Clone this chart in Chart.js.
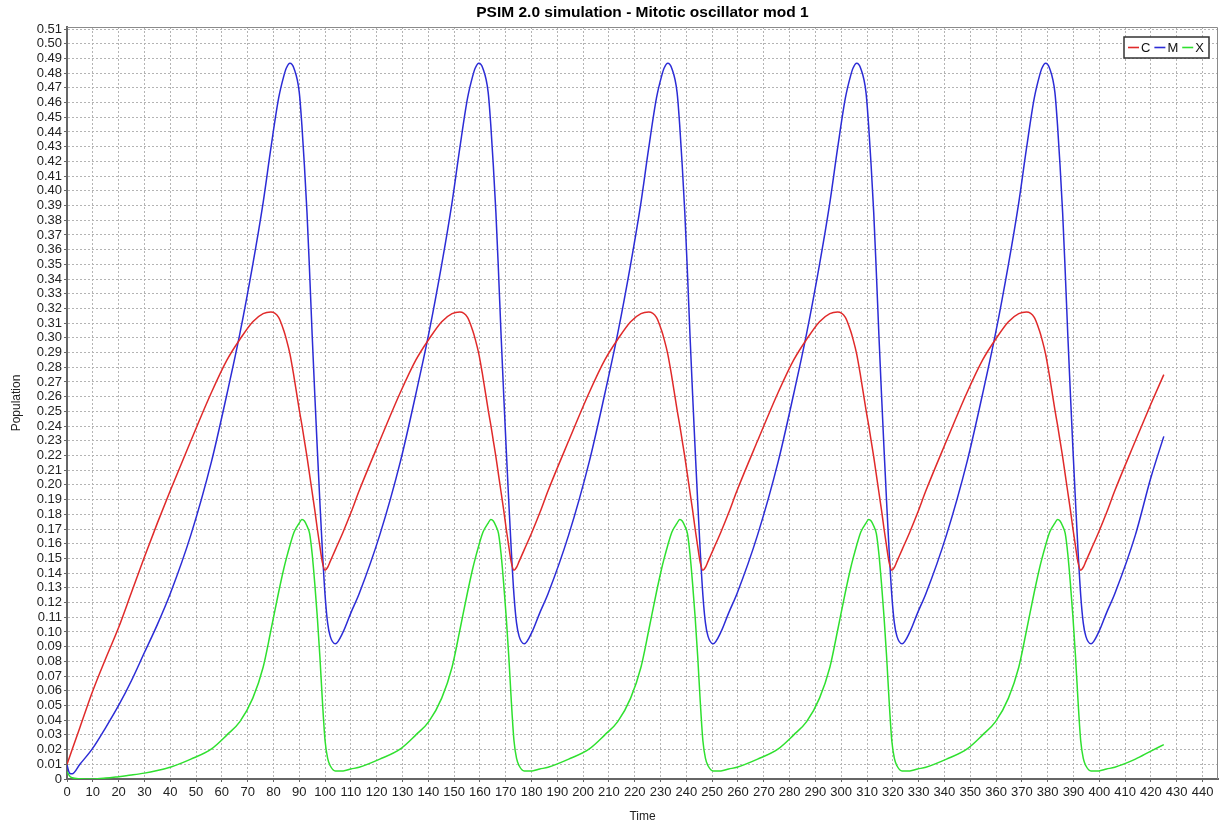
<!DOCTYPE html>
<html>
<head>
<meta charset="utf-8">
<script src="https://cdn.jsdelivr.net/npm/chart.js@4.4.1/dist/chart.umd.min.js"></script>
<style>
  html, body { margin: 0; padding: 0; background: #fff; }
  #wrap { width: 1229px; height: 825px; }
</style>
</head>
<body>
<div id="wrap"><canvas id="chart" width="1229" height="825"></canvas></div>
<script>
// time points (shared by all three series)
const time = [
  0, 1, 2, 5, 10, 15, 20, 25, 30, 35,
  40, 48, 56, 62, 67, 72, 76, 79, 82, 84, 85, 86.4, 88, 90, 91, 92, 93, 94, 95, 96, 97, 98, 99, 100, 101, 102, 104, 107, 110,
  113.2, 121.2, 129.2, 135.2, 140.2, 145.2, 149.2, 152.2, 155.2, 157.2, 158.2, 159.6, 161.2, 163.2, 164.2, 165.2, 166.2, 167.2, 168.2, 169.2, 170.2, 171.2, 172.2, 173.2, 174.2, 175.2, 177.2, 180.2, 183.2,
  186.4, 194.4, 202.4, 208.4, 213.4, 218.4, 222.4, 225.4, 228.4, 230.4, 231.4, 232.8, 234.4, 236.4, 237.4, 238.4, 239.4, 240.4, 241.4, 242.4, 243.4, 244.4, 245.4, 246.4, 247.4, 248.4, 250.4, 253.4, 256.4,
  259.6, 267.6, 275.6, 281.6, 286.6, 291.6, 295.6, 298.6, 301.6, 303.6, 304.6, 306.0, 307.6, 309.6, 310.6, 311.6, 312.6, 313.6, 314.6, 315.6, 316.6, 317.6, 318.6, 319.6, 320.6, 321.6, 323.6, 326.6, 329.6,
  332.8, 340.8, 348.8, 354.8, 359.8, 364.8, 368.8, 371.8, 374.8, 376.8, 377.8, 379.2, 380.8, 382.8, 383.8, 384.8, 385.8, 386.8, 387.8, 388.8, 389.8, 390.8, 391.8, 392.8, 393.8, 394.8, 396.8, 399.8, 402.8,
  406, 414, 420, 425
];

const popC = [
  0.010, 0.015, 0.020, 0.035, 0.060, 0.082, 0.103, 0.127, 0.151, 0.174,
  0.196, 0.230, 0.263, 0.285, 0.299, 0.311, 0.3165, 0.3176, 0.314, 0.305, 0.299, 0.289, 0.273, 0.251, 0.241, 0.230, 0.219, 0.207, 0.195, 0.183, 0.170, 0.158, 0.147, 0.142, 0.144, 0.148, 0.156, 0.168, 0.181,
  0.196, 0.230, 0.263, 0.285, 0.299, 0.311, 0.3165, 0.3176, 0.314, 0.305, 0.299, 0.289, 0.273, 0.251, 0.241, 0.230, 0.219, 0.207, 0.195, 0.183, 0.170, 0.158, 0.147, 0.142, 0.144, 0.148, 0.156, 0.168, 0.181,
  0.196, 0.230, 0.263, 0.285, 0.299, 0.311, 0.3165, 0.3176, 0.314, 0.305, 0.299, 0.289, 0.273, 0.251, 0.241, 0.230, 0.219, 0.207, 0.195, 0.183, 0.170, 0.158, 0.147, 0.142, 0.144, 0.148, 0.156, 0.168, 0.181,
  0.196, 0.230, 0.263, 0.285, 0.299, 0.311, 0.3165, 0.3176, 0.314, 0.305, 0.299, 0.289, 0.273, 0.251, 0.241, 0.230, 0.219, 0.207, 0.195, 0.183, 0.170, 0.158, 0.147, 0.142, 0.144, 0.148, 0.156, 0.168, 0.181,
  0.196, 0.230, 0.263, 0.285, 0.299, 0.311, 0.3165, 0.3176, 0.314, 0.305, 0.299, 0.289, 0.273, 0.251, 0.241, 0.230, 0.219, 0.207, 0.195, 0.183, 0.170, 0.158, 0.147, 0.142, 0.144, 0.148, 0.156, 0.168, 0.181,
  0.196, 0.230, 0.255, 0.275
];

const popM = [
  0.0095, 0.004, 0.0035, 0.010, 0.021, 0.035, 0.050, 0.067, 0.086, 0.105,
  0.126, 0.166, 0.216, 0.262, 0.303, 0.350, 0.392, 0.429, 0.463, 0.478, 0.4835, 0.4867, 0.483, 0.467, 0.445, 0.417, 0.385, 0.345, 0.302, 0.262, 0.224, 0.188, 0.154, 0.125, 0.106, 0.097, 0.092, 0.100, 0.113,
  0.126, 0.166, 0.216, 0.262, 0.303, 0.350, 0.392, 0.429, 0.463, 0.478, 0.4835, 0.4867, 0.483, 0.467, 0.445, 0.417, 0.385, 0.345, 0.302, 0.262, 0.224, 0.188, 0.154, 0.125, 0.106, 0.097, 0.092, 0.100, 0.113,
  0.126, 0.166, 0.216, 0.262, 0.303, 0.350, 0.392, 0.429, 0.463, 0.478, 0.4835, 0.4867, 0.483, 0.467, 0.445, 0.417, 0.385, 0.345, 0.302, 0.262, 0.224, 0.188, 0.154, 0.125, 0.106, 0.097, 0.092, 0.100, 0.113,
  0.126, 0.166, 0.216, 0.262, 0.303, 0.350, 0.392, 0.429, 0.463, 0.478, 0.4835, 0.4867, 0.483, 0.467, 0.445, 0.417, 0.385, 0.345, 0.302, 0.262, 0.224, 0.188, 0.154, 0.125, 0.106, 0.097, 0.092, 0.100, 0.113,
  0.126, 0.166, 0.216, 0.262, 0.303, 0.350, 0.392, 0.429, 0.463, 0.478, 0.4835, 0.4867, 0.483, 0.467, 0.445, 0.417, 0.385, 0.345, 0.302, 0.262, 0.224, 0.188, 0.154, 0.125, 0.106, 0.097, 0.092, 0.100, 0.113,
  0.126, 0.166, 0.205, 0.233
];

const popX = [
  0.005, 0.002, 0.0008, 0.0002, 0.0, 0.0006, 0.0016, 0.0027, 0.004, 0.0058,
  0.008, 0.0135, 0.0205, 0.030, 0.039, 0.055, 0.076, 0.101, 0.127, 0.143, 0.150, 0.159, 0.168, 0.174, 0.1765, 0.1755, 0.172, 0.167, 0.153, 0.133, 0.110, 0.083, 0.052, 0.026, 0.014, 0.009, 0.0055, 0.0055, 0.0068,
  0.008, 0.0135, 0.0205, 0.030, 0.039, 0.055, 0.076, 0.101, 0.127, 0.143, 0.150, 0.159, 0.168, 0.174, 0.1765, 0.1755, 0.172, 0.167, 0.153, 0.133, 0.110, 0.083, 0.052, 0.026, 0.014, 0.009, 0.0055, 0.0055, 0.0068,
  0.008, 0.0135, 0.0205, 0.030, 0.039, 0.055, 0.076, 0.101, 0.127, 0.143, 0.150, 0.159, 0.168, 0.174, 0.1765, 0.1755, 0.172, 0.167, 0.153, 0.133, 0.110, 0.083, 0.052, 0.026, 0.014, 0.009, 0.0055, 0.0055, 0.0068,
  0.008, 0.0135, 0.0205, 0.030, 0.039, 0.055, 0.076, 0.101, 0.127, 0.143, 0.150, 0.159, 0.168, 0.174, 0.1765, 0.1755, 0.172, 0.167, 0.153, 0.133, 0.110, 0.083, 0.052, 0.026, 0.014, 0.009, 0.0055, 0.0055, 0.0068,
  0.008, 0.0135, 0.0205, 0.030, 0.039, 0.055, 0.076, 0.101, 0.127, 0.143, 0.150, 0.159, 0.168, 0.174, 0.1765, 0.1755, 0.172, 0.167, 0.153, 0.133, 0.110, 0.083, 0.052, 0.026, 0.014, 0.009, 0.0055, 0.0055, 0.0068,
  0.008, 0.0135, 0.019, 0.0234
];

const seriesNames = ['C', 'M', 'X'];
const seriesColors = ['#e02a2a', '#2c2cd6', '#2fe02f'];

const FONT = '"Liberation Sans", Arial, Helvetica, sans-serif';

function points(vals) {
  return time.map((t, i) => ({ x: t, y: vals[i] }));
}

// keep only whole-step ticks
function stepTicks(step) {
  return scale => {
    scale.ticks = scale.ticks.filter(t => {
      const r = t.value / step;
      return Math.abs(r - Math.round(r)) < 1e-6;
    });
  };
}

// frame + title + legend, drawn like the original
const decorPlugin = {
  id: 'decor',
  afterDraw(chart) {
    const { ctx, chartArea: a } = chart;
    ctx.save();
    // top/right frame
    ctx.strokeStyle = '#8a8a8a';
    ctx.lineWidth = 1;
    ctx.beginPath();
    ctx.moveTo(a.left, a.top + 0.5);
    ctx.lineTo(a.right - 0.5, a.top + 0.5);
    ctx.lineTo(a.right - 0.5, a.bottom);
    ctx.stroke();

    // title
    ctx.fillStyle = '#000';
    ctx.font = 'bold 15.5px ' + FONT;
    ctx.textAlign = 'center';
    ctx.textBaseline = 'middle';
    ctx.fillText('PSIM 2.0 simulation - Mitotic oscillator mod 1', (a.left + a.right) / 2, 13);

    // legend box
    const bx = 1124, by = 37, bw = 85, bh = 21;
    ctx.fillStyle = '#fff';
    ctx.fillRect(bx, by, bw, bh);
    ctx.strokeStyle = '#333';
    ctx.lineWidth = 1.5;
    ctx.strokeRect(bx, by, bw, bh);
    ctx.font = '13px ' + FONT;
    ctx.textAlign = 'left';
    let x = bx + 4;
    seriesNames.forEach((name, i) => {
      ctx.strokeStyle = seriesColors[i];
      ctx.lineWidth = 1.6;
      ctx.beginPath();
      ctx.moveTo(x, by + bh / 2);
      ctx.lineTo(x + 11, by + bh / 2);
      ctx.stroke();
      ctx.fillStyle = '#111';
      ctx.fillText(name, x + 13, by + bh / 2 + 1);
      x += 13 + ctx.measureText(name).width + 4;
    });
    ctx.restore();
  }
};

new Chart(document.getElementById('chart'), {
  type: 'line',
  data: {
    datasets: seriesNames.map((name, i) => ({
      label: name,
      data: points([popC, popM, popX][i]),
      borderColor: seriesColors[i],
      borderWidth: 1.5,
      pointRadius: 0,
      fill: false,
      cubicInterpolationMode: 'monotone'
    }))
  },
  options: {
    responsive: false,
    animation: false,
    layout: { padding: { top: 27, right: 11, left: 0, bottom: 0 } },
    plugins: {
      legend: { display: false },
      title: { display: false },
      tooltip: { enabled: false }
    },
    scales: {
      x: {
        type: 'linear',
        min: 0,
        max: 446,
        afterBuildTicks: stepTicks(10),
        afterFit: s => { s.height = 46; },
        ticks: {
          stepSize: 10,
          includeBounds: false,
          autoSkip: false,
          maxRotation: 0,
          padding: 3,
          color: '#222',
          font: { family: FONT, size: 13 }
        },
        grid: { color: '#b4b4b4', lineWidth: 1, tickLength: 3, tickColor: '#666' },
        border: { display: true, color: '#666', width: 2, dash: [2, 2] },
        title: {
          display: true,
          text: 'Time',
          color: '#222',
          font: { family: FONT, size: 12 },
          padding: { top: 0, bottom: 1 }
        }
      },
      y: {
        min: 0,
        max: 0.5114,
        afterBuildTicks: stepTicks(0.01),
        afterFit: s => { s.width = 67; },
        ticks: {
          stepSize: 0.01,
          includeBounds: false,
          autoSkip: false,
          padding: 2,
          color: '#222',
          font: { family: FONT, size: 13 },
          callback: v => (Math.abs(v) < 1e-9 ? '0' : v.toFixed(2))
        },
        grid: { color: '#b4b4b4', lineWidth: 1, tickLength: 3, tickColor: '#666' },
        border: { display: true, color: '#666', width: 2, dash: [2, 2] },
        title: {
          display: true,
          text: 'Population',
          color: '#222',
          font: { family: FONT, size: 12 },
          padding: { top: 9, bottom: 0 }
        }
      }
    }
  },
  plugins: [decorPlugin]
});
</script>
</body>
</html>
